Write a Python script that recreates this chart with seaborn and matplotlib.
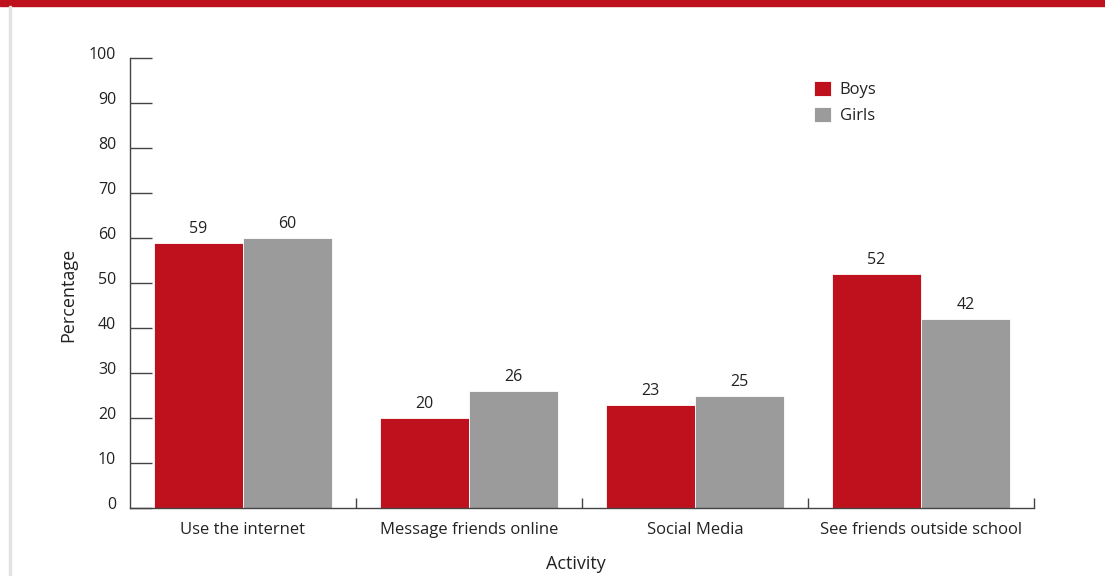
import matplotlib
matplotlib.use("Agg")
import matplotlib.pyplot as plt
import matplotlib.transforms as mtransforms
from matplotlib.patches import Rectangle
import seaborn as sns
import pandas as pd

activities = ["Use the internet", "Message friends online", "Social Media", "See friends outside school"]
boys = [59, 20, 23, 52]
girls = [60, 26, 25, 42]
groups = ["Boys", "Girls"]

df = pd.DataFrame({
    "Activity": activities * 2,
    "Percentage": boys + girls,
    "Group": ["Boys"] * len(boys) + ["Girls"] * len(girls),
})

sns.set_style("white")
plt.rcParams["font.family"] = ["Open Sans", "DejaVu Sans"]
text_col = "#222222"
axis_col = "#444444"

fig = plt.figure(figsize=(11.05, 5.76), dpi=100)
ax = fig.add_axes([130 / 1105, 1 - 508 / 576, (1034 - 130) / 1105, 450 / 576])

sns.barplot(data=df, x="Activity", y="Percentage", hue="Group", order=activities,
            hue_order=groups, palette=["#BE101D", "#9B9B9B"], width=0.79,
            edgecolor="white", linewidth=0.6, saturation=1, ax=ax)

for cont in ax.containers:
    ax.bar_label(cont, padding=4, fontsize=11.5, color=text_col)

ax.set_xlim(-0.5, 3.5)
ax.set_ylim(0, 100)
ax.set_yticks(range(0, 101, 10))
ax.set_xticks([0.5, 1.5, 2.5, 3.5], minor=True)

for s in ["top", "right"]:
    ax.spines[s].set_visible(False)
for s in ["left", "bottom"]:
    ax.spines[s].set_color(axis_col)
    ax.spines[s].set_linewidth(1)

ax.tick_params(axis="y", which="major", direction="in", length=16, width=1,
               color=axis_col, pad=10, labelsize=11.5, labelcolor=text_col, left=True)
ax.tick_params(axis="x", which="major", length=0, pad=10, labelsize=12, labelcolor=text_col)
ax.tick_params(axis="x", which="minor", direction="in", length=7, width=1,
               color=axis_col, bottom=True)

offset = mtransforms.ScaledTranslation(0, 5 / 100, fig.dpi_scale_trans)
for lab in ax.get_yticklabels():
    lab.set_transform(lab.get_transform() + offset)

ax.set_xlabel("Activity", fontsize=13, color=text_col)
ax.set_ylabel("Percentage", fontsize=13, color=text_col)
ax.xaxis.set_label_coords((576 - 130) / 904, -0.104)
ax.yaxis.set_label_coords(-0.058, (508 - 295) / 450)

ax.legend(loc="upper left", bbox_to_anchor=(799 / 1105, 1 - 66 / 576),
          bbox_transform=fig.transFigure, frameon=False, fontsize=12,
          handlelength=1.0, handleheight=1.0, handletextpad=0.55,
          labelspacing=0.55, labelcolor=text_col)

fig.patches.append(Rectangle((0, 1 - 6 / 576), 1, 6 / 576, transform=fig.transFigure,
                             color="#BE101D", zorder=0))
fig.patches.append(Rectangle((9 / 1105, 0), 2 / 1105, 1 - 6 / 576, transform=fig.transFigure,
                             color="#E3E3E3", zorder=0))

fig.savefig("out.png", dpi=100)
